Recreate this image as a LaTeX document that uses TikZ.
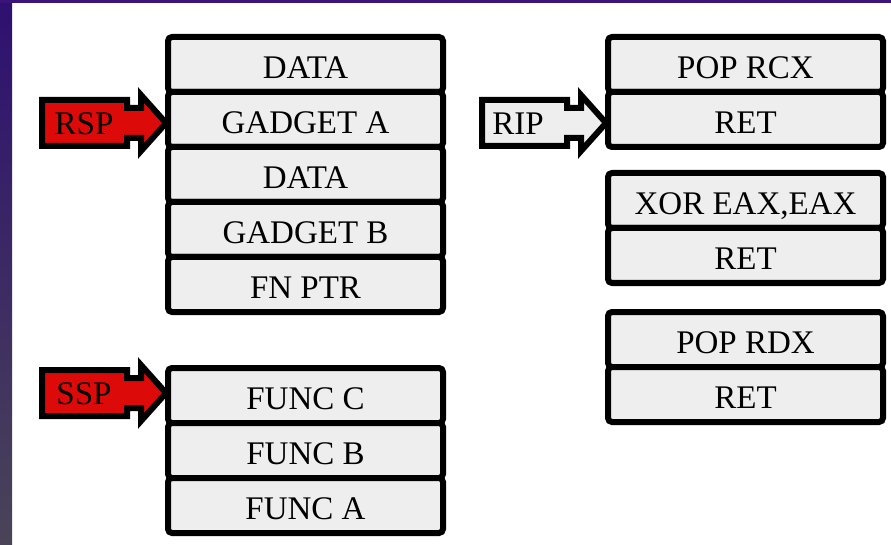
\documentclass[tikz,border=0pt]{standalone}
\usepackage{fontspec}
\setmainfont{Liberation Serif}
\usetikzlibrary{calc}
\definecolor{cellgray}{HTML}{EEEEEE}
\definecolor{ptrred}{HTML}{DD0A0A}
\definecolor{framepurple}{HTML}{3A1478}
\definecolor{striptop}{HTML}{2E1070}
\definecolor{stripbot}{HTML}{4A4458}
\newcommand{\ptrshape}[2]{%
  \begin{scope}[shift={(#1)}]
    \draw[ptr,fill=#2] (-124,-23) -- (-39,-23) -- (-39,-15) -- (-25,-15) -- (-25,-28)
      -- (0,0) -- (-25,28) -- (-25,15) -- (-39,15) -- (-39,23) -- (-124,23) -- cycle;
  \end{scope}}
\begin{document}
\begin{tikzpicture}[x=1pt,y=-1pt,
  cell/.style={draw=black,fill=cellgray,line width=6pt,rounded corners=4pt,
    minimum width=275pt,minimum height=55pt,inner sep=0pt,
    text height=28pt,text depth=0pt,
    font=\fontsize{33}{35}\selectfont},
  ptr/.style={draw=black,line width=6pt,line join=miter},
  ptrlabel/.style={inner sep=0pt,font=\fontsize{33}{35}\selectfont}]
\useasboundingbox (0,0) rectangle (891,545);
\fill[white] (0,0) rectangle (891,545);
\shade[top color=striptop,bottom color=stripbot] (0,0) rectangle (12,545);
\fill[framepurple] (0,0) rectangle (891,3);

% left stack
\node[cell] (d1) at (305.5,64.5) {DATA};
\node[cell] (ga) at (305.5,119.5) {GADGET A};
\node[cell] (d2) at (305.5,174.5) {DATA};
\node[cell] (gb) at (305.5,229.5) {GADGET B};
\node[cell] (fp) at (305.5,284.5) {FN PTR};

% shadow stack
\node[cell] (fc) at (305.5,395.5) {FUNC C};
\node[cell] (fb) at (305.5,450.5) {FUNC B};
\node[cell] (fa) at (305.5,505.5) {FUNC A};

% gadgets
\node[cell] (prcx) at (745.5,64.5) {POP RCX};
\node[cell] (ret1) at (745.5,119.5) {RET};
\node[cell] (xor) at (745.5,200.5) {XOR EAX,EAX};
\node[cell] (ret2) at (745.5,255.5) {RET};
\node[cell] (prdx) at (745.5,339.5) {POP RDX};
\node[cell] (ret3) at (745.5,394.5) {RET};

% pointers
\coordinate (rsptip) at ($(ga.west)+(1,3.5)$);
\coordinate (ssptip) at ($(fc.west)+(1,-2.5)$);
\coordinate (riptip) at ($(ret1.west)+(1,3.5)$);
\ptrshape{rsptip}{ptrred}
\ptrshape{ssptip}{ptrred}
\ptrshape{riptip}{cellgray}
\node[ptrlabel] (rsp) at (84,124) {RSP};
\node[ptrlabel] (ssp) at (84,394) {SSP};
\node[ptrlabel] (rip) at (518,124) {RIP};
\end{tikzpicture}
\end{document}
